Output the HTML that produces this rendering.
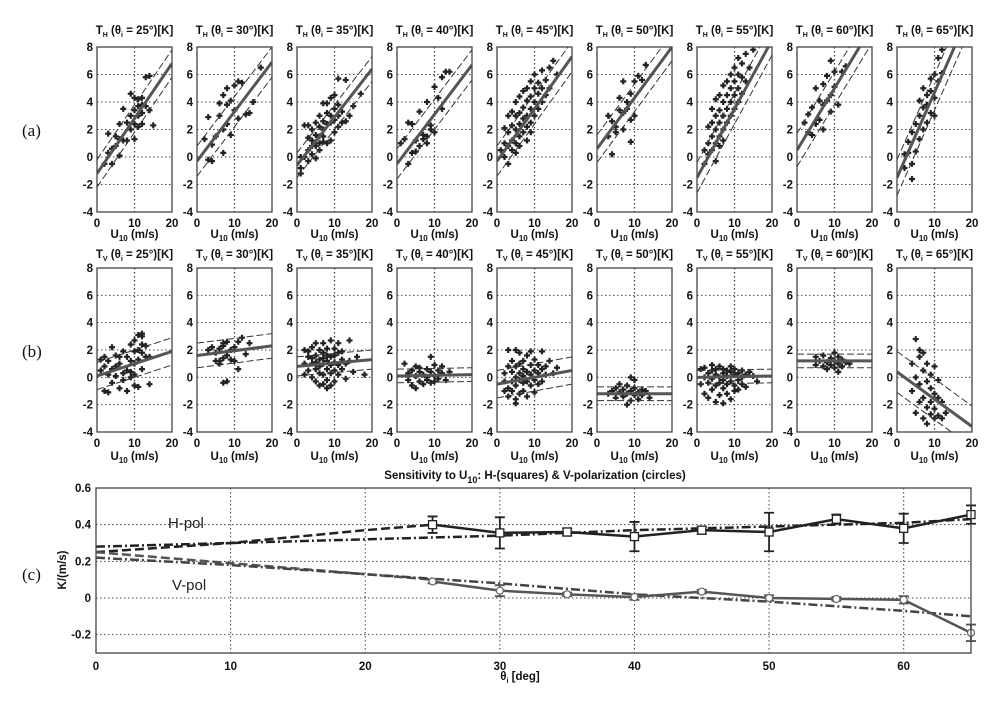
<!DOCTYPE html>
<html><head><meta charset="utf-8">
<style>
html,body{margin:0;padding:0;background:#fff;}
svg{display:block;font-family:"Liberation Sans",Arial,sans-serif;}
.t{font-size:11.5px;font-weight:bold;fill:#111;}
.lab{font-family:"Liberation Serif",serif;font-size:17px;fill:#111;}
</style></head>
<body>
<svg id="fig" width="1000" height="717" viewBox="0 0 1000 717" xmlns="http://www.w3.org/2000/svg">
<text class="lab" x="22" y="136">(a)</text>
<text class="lab" x="22" y="357">(b)</text>
<text class="lab" x="22" y="580">(c)</text>
</svg>
<script>
const angles=[25,30,35,40,45,50,55,60,65];
const fitAInt=[-1.2,-0.3,-0.6,-0.5,-0.3,0.6,-1.5,0.5,-1.5];
const fitASlope=[0.4,0.36,0.35,0.36,0.38,0.37,0.5,0.45,0.62];
const fitABand=[1.0,1.1,0.9,1.1,1.1,1.0,1.1,1.2,1.3];
const fitBInt=[0.1,1.6,0.8,0.1,-0.5,-1.2,0.0,1.2,0.4];
const fitBSlope=[0.09,0.035,0.025,0.005,0.05,0.0,0.005,0.0,-0.2];
const fitBBand=[1.0,0.9,0.7,0.5,1.0,0.5,0.5,0.5,1.5];
const ptsA=[
"2 -0.5,3 0.3,3 1.7,4 0.6,4 -0.5,5 0.8,5 1.5,6 2.4,6 0.1,6 1.3,7 3.5,7 1.2,8 1.2,8 2.5,9 2.0,9 4.6,9 3.0,10 4.3,10 1.3,10 2.4,10 3.4,11 3.0,11 4.2,11 2.2,12 3.8,12 3.2,12 2.4,13 5.8,13 3.7,14 5.9,14 3.4,15 2.3,12 4.3,11 3.7",
"2 1.3,3 -0.2,3 2.9,4 0.9,4 -0.3,5 1.5,6 3.0,6 3.9,7 2.0,7 0.3,7 4.5,8 2.4,8 3.8,9 4.1,9 1.6,10 5.2,10 3.4,11 5.5,11 2.8,12 5.4,13 3.1,14 3.2,15 4.0,17 6.5,8 5.0",
"1 -1.2,1 -0.8,1 0,2 0,2 2.3,3 2.3,3 0.5,3 1.4,3 -0.3,4 0.2,4 1.2,4 2.0,5 0.8,5 1.6,5 2.5,5 -0.1,6 1.0,6 1.5,6 2.2,6 3.0,7 1.1,7 2.0,7 2.6,7 3.9,7 1.5,8 2.4,8 3.2,8 1.0,8 3.9,9 2.5,9 3.0,9 1.2,9 4.3,10 2.7,10 3.5,10 4.5,10 1.8,11 3.0,11 5.7,11 3.8,12 2.5,12 3.3,13 5.6,13 2.6,14 3.0,15 3.7,17 4.6,11 2.2,6 0.5,4 0.8",
"1 1.0,2 1.3,3 -0.5,3 2.5,4 2.4,4 0.3,5 0.4,5 1.2,6 3.3,6 0.8,7 1.3,7 1.6,8 1.5,8 1.0,9 2.0,9 2.3,10 1.8,10 5.1,11 4.3,12 5.8,13 6.2,14 6.2,12 3.5,8 4.0",
"1 0.5,2 1.0,2 2.1,2 0,3 0.8,3 1.8,3 3.0,4 0.5,4 1.2,4 2.3,4 3.3,5 1.0,5 2.0,5 3.0,5 4.0,5 0.3,6 1.5,6 2.4,6 3.2,6 4.4,6 0.8,7 1.8,7 2.8,7 3.6,7 4.8,8 2.2,8 3.0,8 4.1,8 5.0,8 1.2,9 2.5,9 3.5,9 4.4,9 5.5,10 3.0,10 4.0,10 5.0,10 6.0,11 3.5,11 4.6,11 5.4,12 4.0,12 5.0,12 6.3,13 4.5,13 5.6,14 5.0,14 6.5,15 7.0,16 6.0,3 -0.5,9 1.8",
"3 3.0,3 1.5,4 2.6,4 0.2,5 1.8,5 2.2,6 3.4,6 4.3,7 3.2,7 2.0,7 5.5,8 3.5,8 4.0,9 2.7,9 4.6,10 5.5,10 3.0,11 5.9,9 1.1,12 5.6,13 6.7",
"2 -0.5,2 0.5,3 0.2,3 1.0,3 2.2,4 0.5,4 1.5,4 2.5,4 3.5,5 1.0,5 2.0,5 3.0,5 4.2,6 1.5,6 2.5,6 3.4,6 4.5,6 0.8,7 2.0,7 3.0,7 4.0,7 5.2,7 1.2,8 2.5,8 3.5,8 4.5,8 5.5,9 3.0,9 4.0,9 5.0,9 6.0,10 3.5,10 4.5,10 5.5,10 6.5,11 4.0,11 5.0,11 6.0,11 7.2,12 4.6,12 5.8,12 6.8,13 5.5,13 7.5,14 6.5,15 7.8,5 -0.3",
"2 2.5,3 3.1,3 1.8,4 3.6,4 1.6,5 2.4,5 5.0,6 4.1,6 2.7,7 5.3,7 3.8,7 2.0,8 5.9,8 4.1,9 4.5,9 3.3,10 5.1,10 6.2,11 3.8,12 6.2,13 6.6,9 7.0",
"2 0.2,2 -0.8,3 1.1,3 0.3,4 -1.6,4 1.8,4 -0.5,5 2.4,5 0.4,6 3.0,6 1.3,6 4.1,7 2.0,7 3.6,7 5.0,8 3.8,8 4.5,8 2.5,9 4.8,9 3.2,9 5.7,10 4.3,10 6.0,11 5.5,11 7.2,12 6.1,12 7.8,10 3.0"];
const ptsB=[
"1 0.5,1 1.3,2 -1.0,2 0.8,2 1.5,3 -1.1,3 0.2,3 1.2,4 2.2,4 0.6,4 -0.4,5 1.6,5 0.8,5 0.1,6 1.0,6 -0.8,6 1.5,7 0.3,7 1.9,7 -0.2,8 1.5,8 0.5,8 -1.0,9 2.4,9 1.2,9 0,9 0.4,10 2.7,10 1.0,10 -0.6,10 0.2,11 3.1,11 2.0,11 1.3,11 -0.7,12 3.0,12 2.4,12 1.8,12 0.6,13 1.5,13 2.3,14 -0.5,14 1.5,12 3.2,10 1.9",
"3 2.0,4 2.2,5 1.2,5 1.8,6 2.1,6 1.0,7 2.5,7 2.3,7 1.4,7 -0.4,8 -0.3,8 1.6,8 2.6,9 2.0,9 1.3,10 1.2,10 2.2,11 0.6,11 2.6,12 2.9,13 1.7,14 2.5,6 1.2",
"2 2.0,2 1.0,2 0.2,3 1.5,3 0.5,3 1.9,4 1.0,4 0.0,4 2.2,4 1.4,5 0.6,5 1.6,5 2.5,5 -0.3,5 1.1,6 0.3,6 1.3,6 2.0,6 0.8,6 -0.6,7 1.0,7 1.8,7 2.5,7 0.2,7 1.4,7 -0.5,8 0.6,8 1.2,8 2.1,8 -0.2,8 1.6,8 -0.8,9 0.9,9 1.5,9 2.7,9 0.3,9 -0.6,10 1.1,10 2.1,10 0.5,10 1.6,10 -0.3,11 0.9,11 1.8,11 0.2,11 2.5,12 1.3,12 0.6,12 1.9,13 1.0,13 -0.1,14 2.7,14 1.2,15 0.4,18 0.2,16 1.5",
"2 1.0,3 0.3,3 -0.2,4 0.5,4 -0.6,5 0.1,5 0.8,5 -0.8,6 0.4,6 -0.3,6 0.7,7 0.2,7 -0.5,8 0.6,8 0,8 -0.2,9 1.5,9 0.4,9 -0.4,10 0.9,10 0.1,10 -0.3,11 0.5,11 -0.1,12 0.3,12 0.8,13 -0.2,14 0.4",
"2 -1.0,2 0.3,2 -0.3,3 0.8,3 -0.8,3 -1.4,4 0.4,4 -0.3,4 1.2,4 -1.0,5 0.0,5 0.8,5 -0.6,5 2.0,5 -1.6,6 0.3,6 -0.2,6 1.0,6 -1.2,6 1.8,7 0.1,7 0.6,7 -0.4,7 -1.0,7 1.2,8 0.4,8 -0.3,8 1.6,8 -1.4,9 0.2,9 0.9,9 -0.6,9 1.9,10 0.5,10 -0.2,10 1.3,10 -1.1,11 0.3,11 0.9,11 -0.5,12 0.6,12 1.9,12 -0.3,13 0.8,13 0.2,14 1.2,15 0.3,16 0.7,3 2.0,5 -1.9",
"3 -1.2,4 -1.0,5 -1.5,5 -0.8,6 -1.1,6 -0.5,7 -1.4,7 -0.9,8 -1.2,8 -0.6,9 -1.7,9 -1.0,9 0,10 -1.3,10 -0.8,10 -0.2,11 -1.1,11 -1.6,12 -0.9,12 -1.3,13 -1.0,14 -1.5,8 -2.0",
"1 -0.5,1 0.6,2 0,2 -1.2,2 0.7,3 0.3,3 -0.4,3 -1.5,4 0.5,4 -0.1,4 -0.9,4 0.9,5 0.2,5 -0.6,5 -1.8,5 0.6,6 0,6 -0.4,6 0.8,6 -1.3,7 0.3,7 -0.2,7 -0.8,7 0.6,7 -1.9,8 0.1,8 0.5,8 -0.5,8 -1.2,9 0.4,9 -0.3,9 0.8,9 -1.6,10 0.2,10 -0.6,10 0.6,10 -1.0,11 0.3,11 -0.2,11 -0.9,12 0.5,12 0,12 -0.5,13 0.2,13 -0.7,14 0.4,15 0.1,16 -0.3",
"5 1.5,5 0.9,6 1.2,7 0.8,7 1.6,8 1.1,8 0.6,9 1.4,9 0.9,10 1.2,10 1.8,10 0.7,11 1.0,11 1.5,12 1.3,12 0.8,13 1.1,14 1.0,11 0.4",
"4 1.0,4 -1.0,5 2.8,5 0,5 -2.6,6 1.5,6 -0.5,6 -1.8,6 2.0,7 0.5,7 -1.5,7 -3.0,7 1.8,8 -0.3,8 -2.2,8 1.0,8 -3.4,9 -0.8,9 -2.7,9 0.2,9 -1.8,10 -1.2,10 -3.0,10 -2.3,11 -1.5,11 -2.8,11 -0.2,12 -1.8,12 -3.0,13 -2.6,10 0.8"];
const yTicks=[8,6,4,2,0,-2,-4];
const xTicks=[0,10,20];
const cX=[25,30,35,40,45,50,55,60,65];
const hVals=[0.40,0.355,0.36,0.335,0.37,0.36,0.43,0.38,0.455];
const hErr=[0.045,0.085,0.02,0.08,0.02,0.105,0.025,0.08,0.05];
const vVals=[0.09,0.04,0.02,0.005,0.035,0.0,-0.005,-0.01,-0.19];
const vErr=[0.01,0.03,0.01,0.015,0.01,0.015,0.01,0.02,0.045];
const hDashX=[0,10,20,25], hDashY=[0.25,0.30,0.37,0.40];
const hDotX=[0,10,20,30,40,50,60,65], hDotY=[0.28,0.30,0.32,0.34,0.37,0.39,0.41,0.43];
const vDashX=[0,10,20,25], vDashY=[0.25,0.19,0.13,0.10];
const vDotX=[0,10,20,30,40,50,60,65], vDotY=[0.22,0.18,0.13,0.08,0.02,-0.02,-0.07,-0.10];
const cYTicks=[0.6,0.4,0.2,0,-0.2], cXTicks=[0,10,20,30,40,50,60,65];
const cXLabels=["0","10","20","30","40","50","60",""];

const NS="http://www.w3.org/2000/svg";
const svg=document.getElementById('fig');
function mk(tag,attrs,parent){const e=document.createElementNS(NS,tag);for(const k in attrs)e.setAttribute(k,attrs[k]);(parent||svg).appendChild(e);return e;}

function panel(i,row){
  const L=97+100*i, W=75, T=row===0?47:268, B=row===0?212:432;
  const sx=v=>L+v/20*W, sy=v=>B-(v+4)/12*(B-T);
  const g=mk('g',{});
  
  
  [6,4,2,0,-2].forEach(v=>{const l=mk('line',{x1:L,x2:L+W,y1:sy(v),y2:sy(v),stroke:'#444','stroke-width':1,'stroke-dasharray':'1.5,2.5'},g);});
  const gl=mk('line',{x1:sx(10),x2:sx(10),y1:T,y2:B,stroke:'#444','stroke-width':1.3,'stroke-dasharray':'1.5,2.5'},g);
  
  const pts=(row===0?ptsA:ptsB)[i].split(',');
  pts.forEach(p=>{const [x,y]=p.trim().split(' ').map(Number);const cx=sx(x),cy=sy(y);
    const pt=mk('path',{d:`M${cx-3},${cy}h6M${cx},${cy-3}v6`,stroke:'#222','stroke-width':2.2},g);
    });
  const a=(row===0?fitAInt:fitBInt)[i], b=(row===0?fitASlope:fitBSlope)[i], d=(row===0?fitABand:fitBBand)[i];
  const clip='c'+row+'_'+i;
  const cp=mk('clipPath',{id:clip},g);mk('rect',{x:L,y:T,width:W,height:B-T},cp);
  const fl=mk('line',{x1:sx(0),y1:sy(a),x2:sx(20),y2:sy(a+20*b),stroke:'#555','stroke-width':3,'clip-path':`url(#${clip})`},g);
  
  [d,-d].forEach(o=>{const dl=mk('line',{x1:sx(0),y1:sy(a+o),x2:sx(20),y2:sy(a+o+20*b),stroke:'#333','stroke-width':1,'stroke-dasharray':'7,3','clip-path':`url(#${clip})`},g);
    });
  const fr=mk('rect',{x:L,y:T,width:W,height:B-T,fill:'none',stroke:'#444','stroke-width':1.3},g);
  
  yTicks.forEach(v=>{const t=mk('text',{x:L-4,y:sy(v)+4,'text-anchor':'end',class:'t'},g);t.textContent=v;
    });
  xTicks.forEach(v=>{const t=mk('text',{x:sx(v),y:B+15,'text-anchor':'middle',class:'t'},g);t.textContent=v;
    });
  const xl=mk('text',{x:L+W/2,y:B+(row===0?26:28),'text-anchor':'middle',class:'t'},g);
  xl.innerHTML='U<tspan dy="3" font-size="8">10</tspan><tspan dy="-3"> (m/s)</tspan>';
  
  const tt=mk('text',{x:L+W/2,y:T-(row===0?13:10),'text-anchor':'middle',class:'t','font-size':'10.5'},g);
  tt.innerHTML=`T<tspan dy="3" font-size="7">${row===0?'H':'V'}</tspan><tspan dy="-3"> (θ</tspan><tspan dy="3" font-size="7">i</tspan><tspan dy="-3"> = ${angles[i]}°)[K]</tspan>`;
  
}
for(let r=0;r<2;r++)for(let i=0;i<9;i++)panel(i,r);

(function(){
  const L=96,R=971,T=488,B=653;
  const sx=v=>L+v/65*(R-L), sy=v=>B-(v+0.3)/0.9*(B-T);
  const g=mk('g',{});
  [0.4,0.2,0,-0.2].forEach(v=>{const l=mk('line',{x1:L,x2:R,y1:sy(v),y2:sy(v),stroke:'#444','stroke-width':1,'stroke-dasharray':'1.5,2.5'},g);});
  [10,20,30,40,50,60].forEach(v=>{const l=mk('line',{x1:sx(v),x2:sx(v),y1:T,y2:B,stroke:'#444','stroke-width':1,'stroke-dasharray':'1.5,2.5'},g);});
  const line=(xs,ys,st,w,da,name)=>{const p=mk('polyline',{points:xs.map((x,k)=>sx(x)+','+sy(ys[k])).join(' '),fill:'none',stroke:st,'stroke-width':w,'stroke-dasharray':da},g);};
  line(hDashX,hDashY,'#222',2.5,'9,4','h-pol-model-dashed');
  line(hDotX,hDotY,'#222',2.5,'9,3,2,3','h-pol-model-dashdot');
  line(vDashX,vDashY,'#555',2.5,'9,4','v-pol-model-dashed');
  line(vDotX,vDotY,'#444',2.5,'9,3,2,3','v-pol-model-dashdot');
  line(cX,hVals,'#222',2.5,'','h-pol-series');
  line(cX,vVals,'#555',2.5,'','v-pol-series');
  cX.forEach((x,k)=>{
    [[hVals,hErr,'#222','h'],[vVals,vErr,'#555','v']].forEach(([vals,err,c,n])=>{
      const X=sx(x),y0=sy(vals[k]-err[k]),y1=sy(vals[k]+err[k]);
      const e=mk('path',{d:`M${X},${y0}V${y1}M${X-5},${y0}h10M${X-5},${y1}h10`,stroke:c,'stroke-width':1.8,fill:'none'},g);
      
      let m;
      if(n==='h'){m=mk('rect',{x:X-4,y:sy(vals[k])-4,width:8,height:8,fill:'#fff',stroke:'#222','stroke-width':1.3},g);}
      else{m=mk('circle',{cx:X,cy:sy(vals[k]),r:3.5,fill:'#fff',stroke:'#666','stroke-width':1.2},g);}
      
    });
  });
  const fr=mk('rect',{x:L,y:T,width:R-L,height:B-T,fill:'none',stroke:'#444','stroke-width':1.3},g);
  
  cYTicks.forEach(v=>{const t=mk('text',{x:L-5,y:sy(v)+4,'text-anchor':'end',class:'t'},g);t.textContent=v;});
  cXTicks.forEach((v,k)=>{const t=mk('text',{x:sx(v),y:B+17,'text-anchor':'middle',class:'t'},g);t.textContent=cXLabels[k];});
  const tl=mk('text',{x:535,y:479,'text-anchor':'middle',class:'t','font-size':'12'},g);
  tl.innerHTML='Sensitivity to U<tspan dy="4" font-size="9">10</tspan><tspan dy="-4">: H-(squares) &amp; V-polarization (circles)</tspan>';
  
  const xl=mk('text',{x:520,y:680,'text-anchor':'middle',class:'t'},g);
  xl.innerHTML='θ<tspan dy="3" font-size="7">i</tspan><tspan dy="-3"> [deg]</tspan>';
  
  const yl=mk('text',{x:0,y:0,'text-anchor':'middle',class:'t','font-size':'10',transform:'translate(66,570) rotate(-90)'},g);
  yl.textContent='K/(m/s)';
  const h=mk('text',{x:168,y:528,style:'font-size:15px;fill:#222'},g);h.textContent='H-pol';
  const v=mk('text',{x:172,y:590,style:'font-size:15px;fill:#222'},g);v.textContent='V-pol';
})();
</script>
</body></html>
